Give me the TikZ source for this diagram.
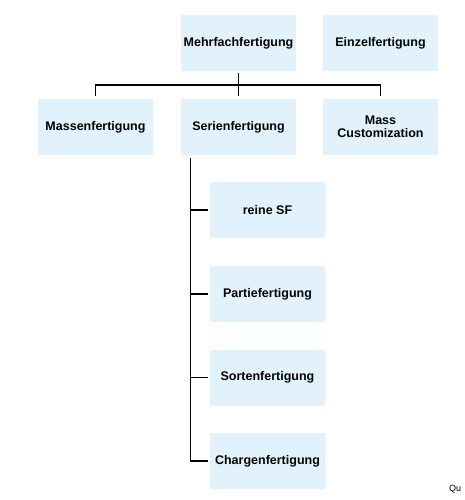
\documentclass[tikz,border=0pt]{standalone}
\usepackage{fontspec}
\setmainfont{Liberation Sans}
\usetikzlibrary{calc}
\definecolor{boxblue}{RGB}{225,242,252}

\tikzset{
    fbox/.style={fill=boxblue, minimum width=115pt, minimum height=56pt, inner sep=0pt,
        align=center, font=\fontsize{12.5}{13.5}\selectfont\bfseries},
    link/.style={line width=1.2pt}
}

\begin{document}
\begin{tikzpicture}[x=1pt, y=-1pt]
    \useasboundingbox (0,0) rectangle (464,500);

    % Top row
    \node[fbox] (mehr) at (238.5, 43) {Mehrfachfertigung};
    \node[fbox] (einzel) at (380.5, 43) {Einzelfertigung};

    % Second row
    \node[fbox] (massen) at (95.5, 127) {Massenfertigung};
    \node[fbox] (serien) at (238.5, 127) {Serienfertigung};
    \node[fbox] (custom) at (380.5, 127) {Mass\\Customization};

    % Kinds of Serienfertigung
    \node[fbox] (reine) at (267.5, 210) {reine SF};
    \node[fbox] (partie) at (267.5, 294) {Partiefertigung};
    \node[fbox] (sorten) at (267.5, 377.5) {Sortenfertigung};
    \node[fbox] (charge) at (267.5, 461) {Chargenfertigung};

    % Tree lines
    \draw[link, shorten <=2pt, shorten >=3pt] (mehr) -- (serien);
    \draw[link, shorten <=3pt, shorten >=3pt] (massen.north)
        |- ($(mehr.south)!.5!(serien.north)$) -| (custom.north);
    \coordinate (trunk) at ([xshift=10pt]serien.south west);
    \draw[link, shorten <=3pt, shorten >=2pt] (trunk) |- (charge.west);
    \foreach \n in {reine, partie, sorten}
        \draw[link, shorten >=2pt] (trunk |- \n.west) -- (\n.west);

    % Source note, cut off at the edge
    \node[anchor=base west, inner sep=0pt, font=\fontsize{9}{10}\selectfont] (quelle) at (449, 491) {Qu};
\end{tikzpicture}
\end{document}
